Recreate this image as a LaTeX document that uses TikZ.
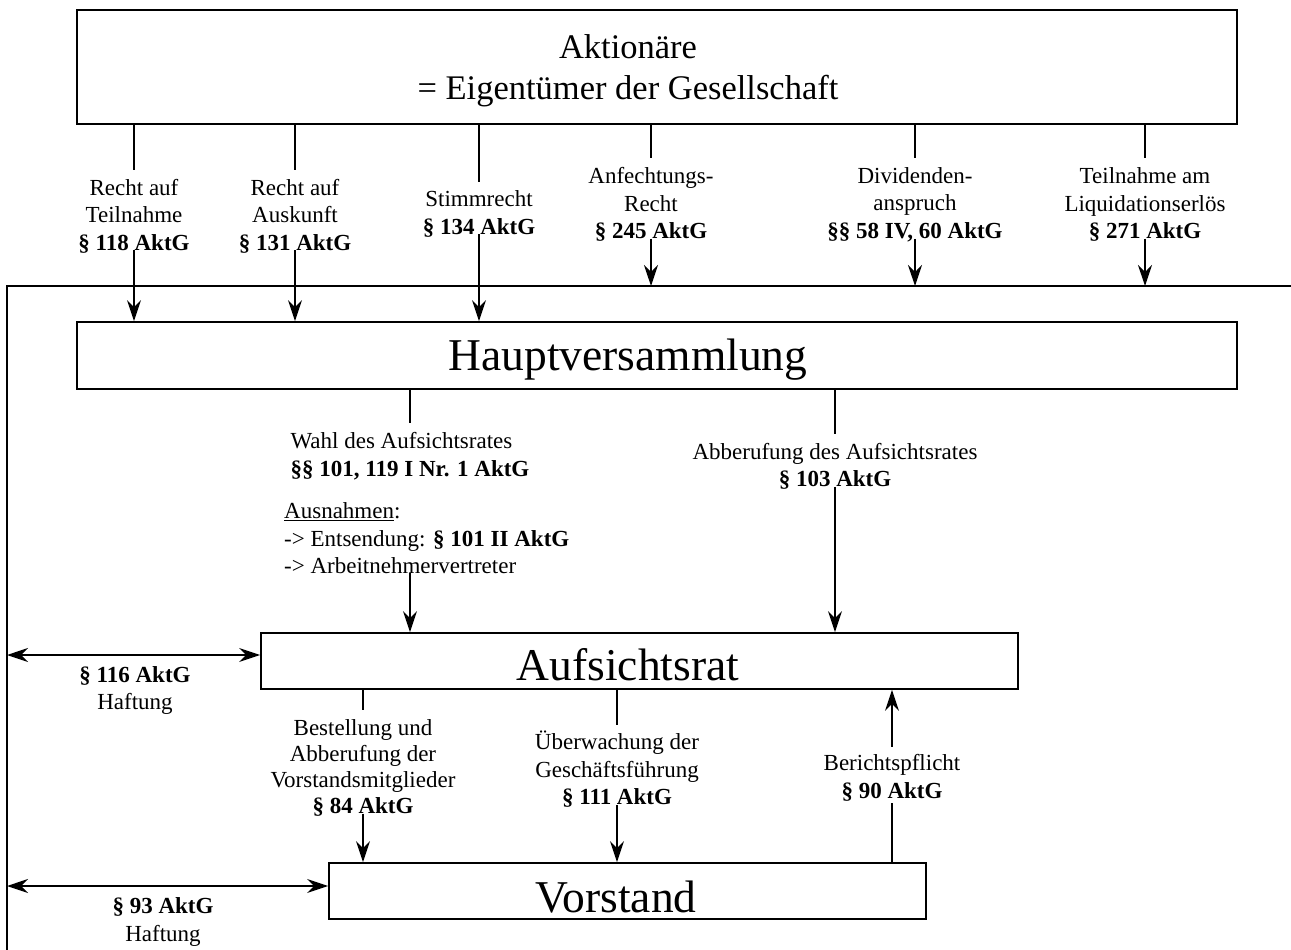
\documentclass[tikz,border=0pt]{standalone}
\usepackage{fontspec}
\setmainfont{Liberation Serif}
\usetikzlibrary{arrows.meta}
\begin{document}
\begin{tikzpicture}[x=1pt,y=-1pt,
  lab/.style={font=\fontsize{23}{27.5}\selectfont, align=center, inner sep=0pt},
  big/.style={font=\fontsize{45.5}{50}\selectfont, inner sep=0pt},
  box/.style={draw, line width=1.8pt, inner sep=0pt},
  ln/.style={line width=1.4pt},
  tip/.style={},
  arr/.style={line width=1.4pt, -{Stealth[length=21pt,width=14pt,inset=7pt]}},
  darr/.style={line width=1.4pt, {Stealth[length=21pt,width=14pt,inset=7pt]}-{Stealth[length=21pt,width=14pt,inset=7pt]}},
  tolab/.style={shorten >=9pt},
  fromlab/.style={shorten <=-3pt}
]
\useasboundingbox (0,0) rectangle (1291,950);

% frame
\coordinate (fl) at (7,286);
\coordinate (fr) at (1291,286);
\draw[line width=1.8pt] (7,950) -- (fl) -- (fr);

% boxes
\node[box, minimum width=1160pt, minimum height=114pt] (akt) at (657,67) {};
\node[box, minimum width=1160pt, minimum height=67pt] (hv) at (657,355.5) {};
\node[box, minimum width=757pt, minimum height=56pt] (ar) at (639.5,661) {};
\node[box, minimum width=597pt, minimum height=56pt] (vs) at (627.5,891) {};

\node[inner sep=0pt, align=center, font=\fontsize{34.5}{41}\selectfont] (akttxt) at (628,70.5) {Aktionäre\\= Eigentümer der Gesellschaft};
\node[big, anchor=base] (hvtxt) at (628,370) {Hauptversammlung};
\node[big, anchor=base] (artxt) at (628,680) {Aufsichtsrat};
\node[big, anchor=base] (vstxt) at (616,912) {Vorstand};

% top labels
\node[lab] (l1) at (134,216) {Recht auf\\Teilnahme\\\textbf{§ 118 AktG}};
\node[lab] (l2) at (295,216) {Recht auf\\Auskunft\\\textbf{§ 131 AktG}};
\node[lab] (l3) at (479,214) {Stimmrecht\\\textbf{§ 134 AktG}};
\node[lab] (l4) at (651,204.5) {Anfechtungs-\\Recht\\\textbf{§ 245 AktG}};
\node[lab] (l5) at (915,204.5) {Dividenden-\\anspruch\\\textbf{§§ 58 IV, 60 AktG}};
\node[lab] (l6) at (1145,204.5) {Teilnahme am\\Liquidationserlös\\\textbf{§ 271 AktG}};

\foreach \n in {l1,l2,l3}{
  \draw[ln, tolab] (akt.south -| \n) -- (\n.north);
  \draw[arr, fromlab] (\n.south) -- (hv.north -| \n);
}
\foreach \n in {l4,l5,l6}{
  \draw[ln, tolab] (akt.south -| \n) -- (\n.north);
  \draw[arr, fromlab] (\n.south) -- (\n.south |- fl);
}

% Hauptversammlung -> Aufsichtsrat
\node[lab, align=left] (wahl) at (410,456) {Wahl des Aufsichtsrates\\\textbf{§§ 101, 119 I Nr. 1 AktG}};
\node[lab, align=left, anchor=west] (ausn) at (284,538.5) {\underline{Ausnahmen}:\\-> Entsendung: \textbf{§ 101 II AktG}\\-> Arbeitnehmervertreter};
\draw[ln, tolab] (hv.south -| wahl) -- (wahl.north);
\draw[arr, shorten <=-1pt] (ausn.south -| wahl) -- (ar.north -| wahl);

\node[lab] (abb) at (835,466.5) {Abberufung des Aufsichtsrates\\\textbf{§ 103 AktG}};
\draw[ln, tolab] (hv.south -| abb) -- (abb.north);
\draw[arr, fromlab] (abb.south) -- (ar.north -| abb);

% Haftung
\path ([yshift=6pt]ar.west) coordinate (arw);
\path ([yshift=5pt]vs.west) coordinate (vsw);
\draw[darr] (arw -| fl) -- (arw);
\draw[darr] (vsw -| fl) -- (vsw);
\node[lab] (h1) at (135,690.5) {\textbf{§ 116 AktG}\\Haftung};
\node[lab] (h2) at (163,922) {\textbf{§ 93 AktG}\\Haftung};

% Aufsichtsrat -> Vorstand
\node[lab, font=\fontsize{23}{26}\selectfont] (best) at (363,768) {Bestellung und\\Abberufung der\\Vorstandsmitglieder\\\textbf{§ 84 AktG}};
\draw[ln, tolab] (ar.south -| best) -- (best.north);
\draw[arr, fromlab] (best.south) -- (vs.north -| best);

\node[lab] (uebw) at (617,769.5) {Überwachung der\\Geschäftsführung\\\textbf{§ 111 AktG}};
\draw[ln, shorten >=6pt] (ar.south -| uebw) -- (uebw.north);
\draw[arr, fromlab] (uebw.south) -- (vs.north -| uebw);

\node[lab] (ber) at (892,778) {Berichtspflicht\\\textbf{§ 90 AktG}};
\draw[ln, shorten >=2pt] (vs.north -| ber) -- (ber.south);
\draw[arr, shorten <=8pt] (ber.north) -- (ar.south -| ber);
\end{tikzpicture}
\end{document}
